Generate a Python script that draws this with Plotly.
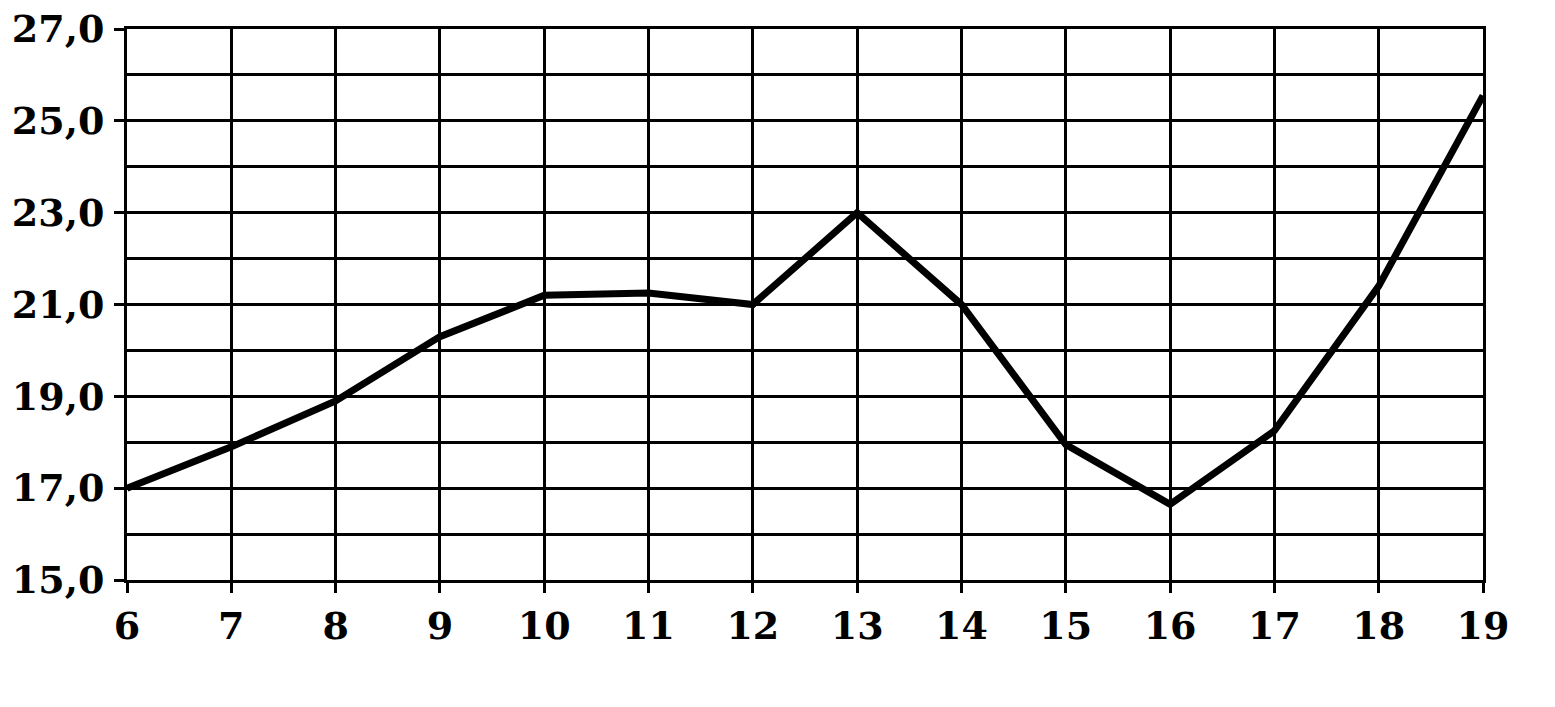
import plotly.graph_objects as go

# values
hours = [6, 7, 8, 9, 10, 11, 12, 13, 14, 15, 16, 17, 18, 19]
temps = [17.0, 17.9, 18.9, 20.3, 21.2, 21.25, 21.0, 23.0, 21.0, 17.95, 16.65, 18.25, 21.4, 25.55]
y_ticks = [15, 17, 19, 21, 23, 25, 27]

TICKFONT = dict(family='DejaVu Serif', size=38, color='black', weight='bold')

fig = go.Figure()
fig.add_trace(go.Scatter(
    x=hours, y=temps,
    mode='lines',
    line=dict(color='black', width=7),
    showlegend=False,
))

fig.update_layout(
    width=1555, height=707,
    plot_bgcolor='white',
    paper_bgcolor='white',
    separators=', ',
    margin=dict(l=127, r=72, t=29, b=127),
)
fig.update_xaxes(
    range=[6, 19],
    tickvals=hours,
    showgrid=True, gridcolor='black', gridwidth=3,
    showline=True, linecolor='black', linewidth=3, mirror=True,
    ticks='outside', ticklen=10, tickwidth=3, tickcolor='black',
    ticklabelstandoff=0, ticklabeloverflow='allow',
    zeroline=False, automargin=False,
    tickfont=TICKFONT,
)
fig.update_yaxes(
    range=[15, 27],
    tickvals=y_ticks,
    tickformat='.1f',
    showgrid=True, gridcolor='black', gridwidth=3,
    minor=dict(dtick=1, showgrid=True, gridcolor='black', gridwidth=3),
    showline=True, linecolor='black', linewidth=3, mirror=True,
    ticks='outside', ticklen=10, tickwidth=3, tickcolor='black',
    ticklabelstandoff=2, ticklabeloverflow='allow',
    zeroline=False, automargin=False,
    tickfont=TICKFONT,
)

# drop the browser's default page margin so the figure sits at the top-left corner
fig.write_html(
    "out.html",
    config={'displayModeBar': False},
    post_script="document.body.style.margin = '0px';",
)
